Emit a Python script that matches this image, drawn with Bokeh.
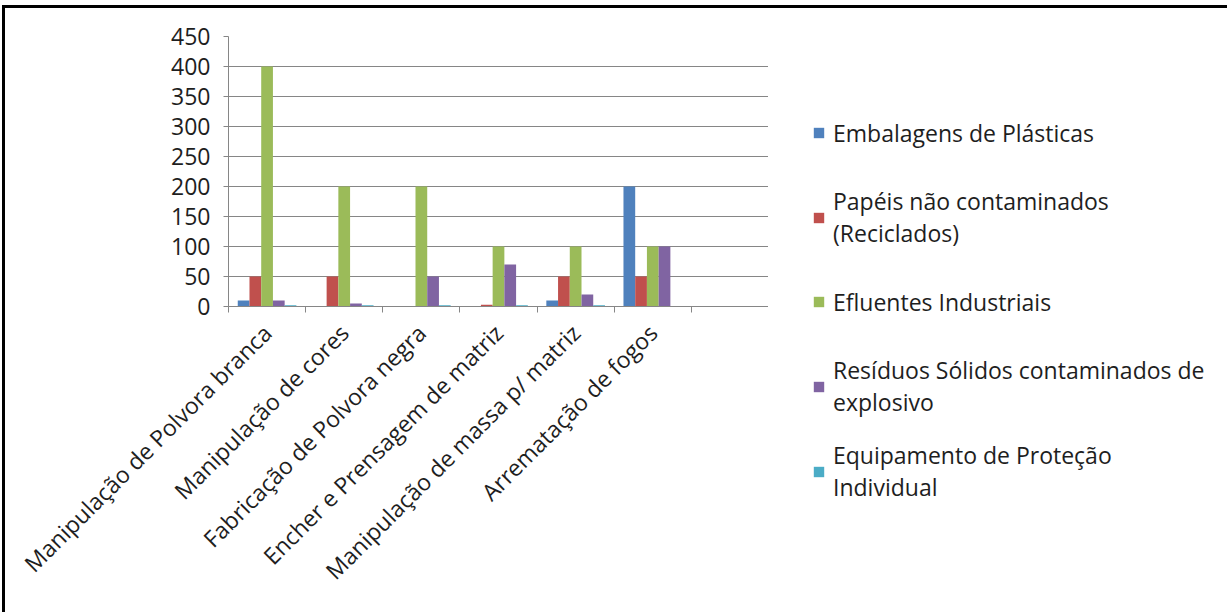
import math
from bokeh.plotting import figure
from bokeh.layouts import row
from bokeh.models import (Range1d, FixedTicker, Legend, LegendItem, ColumnDataSource)
from bokeh.transform import dodge
from bokeh.embed import file_html
from bokeh.resources import INLINE

# ---- data ----
categories = ["Manipulação de Polvora branca", "Manipulação de cores", "Fabricação de Polvora negra",
              "Encher e Prensagem de matriz", "Manipulação de massa p/ matriz", "Arrematação de fogos", ""]
series_labels = ["Embalagens de Plásticas", "Papéis não contaminados\n(Reciclados)", "Efluentes Industriais",
                 "Resíduos Sólidos contaminados de\nexplosivo", "Equipamento de Proteção\nIndividual"]
embalagens = [10, 0, 0, 0, 10, 200, 0]
papeis = [50, 50, 0, 3, 50, 50, 0]
efluentes = [400, 200, 200, 100, 100, 100, 0]
residuos = [10, 5, 50, 70, 20, 100, 0]
epi = [2, 2, 2, 2, 2, 0, 0]
y_ticks = [0, 50, 100, 150, 200, 250, 300, 350, 400, 450]
colors = ["#4F81BD", "#C0504D", "#9BBB59", "#8064A2", "#4BACC6"]

FONT = "Open Sans"
FS = "23px"
TXT = "#1e1e1e"
GRID = "#868686"

n = len(categories)
centers = [i + 0.5 for i in range(n)]
cols = ["s0", "s1", "s2", "s3", "s4"]
source = ColumnDataSource(dict(xc=centers, s0=embalagens, s1=papeis, s2=efluentes, s3=residuos, s4=epi))

# ---------------- chart ----------------
p = figure(x_range=Range1d(0, n), y_range=Range1d(0, 450),
           width=763, height=604, output_backend="svg", toolbar_location=None,
           min_border_left=223, min_border_right=0,
           min_border_top=28, min_border_bottom=306)
p.outline_line_color = None
p.background_fill_color = "white"
p.border_fill_color = "white"

bw = 0.152
offsets = [-2 * bw, -bw, 0, bw, 2 * bw]
for i, col in enumerate(cols):
    p.vbar(x=dodge("xc", offsets[i]), top=col, bottom=0, width=bw,
           source=source, fill_color=colors[i], line_color=None)

yax = p.yaxis[0]
yax.ticker = FixedTicker(ticks=y_ticks)
yax.minor_tick_line_color = None
yax.major_tick_in = 0
yax.major_tick_out = 5
yax.axis_line_color = GRID
yax.major_tick_line_color = GRID
yax.major_label_text_font = FONT
yax.major_label_text_font_size = FS
yax.major_label_text_color = TXT
yax.major_label_standoff = 13

p.ygrid.grid_line_color = GRID
p.xgrid.grid_line_color = None

# x axis: labels at category centres, tick marks at category boundaries
label_ticks = [c for c, lab in zip(centers, categories) if lab]
xax = p.xaxis[0]
xax.ticker = FixedTicker(ticks=label_ticks, minor_ticks=list(range(n + 1)))
xax.major_label_overrides = {c: lab for c, lab in zip(centers, categories) if lab}
xax.axis_line_color = GRID
xax.major_tick_line_color = None
xax.minor_tick_line_color = GRID
xax.minor_tick_in = 0
xax.minor_tick_out = 6
xax.major_tick_in = 0
xax.major_tick_out = 6
xax.major_label_orientation = math.pi / 4
xax.major_label_text_font = FONT
xax.major_label_text_font_size = FS
xax.major_label_text_color = TXT
xax.major_label_standoff = 16

# ---------------- legend panel ----------------
lf = figure(x_range=Range1d(0, 1), y_range=Range1d(0, 1), width=459, height=604,
            output_backend="svg", toolbar_location=None,
            x_axis_location=None, y_axis_location=None,
            min_border_left=0, min_border_right=0, min_border_top=0, min_border_bottom=0)
if "frame_align" in lf.properties():
    lf.frame_align = False
lf.outline_line_color = None
lf.xgrid.visible = False
lf.ygrid.visible = False
lf.background_fill_color = "white"
lf.border_fill_color = "white"

proxies = []
for i, col in enumerate(cols):
    proxies.append(lf.vbar(x=dodge("xc", offsets[i]), top=col, bottom=0, width=bw, source=source,
                           fill_color=colors[i], line_color=None, visible=False))

legend = Legend(items=[LegendItem(label=series_labels[i], renderers=[proxies[i]]) for i in range(5)],
                location=(44, 109), label_text_font=FONT, label_text_font_size=FS,
                label_text_color=TXT, glyph_width=13, glyph_height=13, label_standoff=8,
                spacing=21, padding=0, margin=0, border_line_color=None, background_fill_alpha=0,
                label_height=63, inactive_fill_alpha=0)
lf.add_layout(legend, "center")

layout = row(p, lf, styles={"margin-top": "5px", "margin-left": "2px",
                            "border-top": "3px solid black", "border-left": "3px solid black"})

open("out.html", "w").write(file_html(layout, INLINE))
